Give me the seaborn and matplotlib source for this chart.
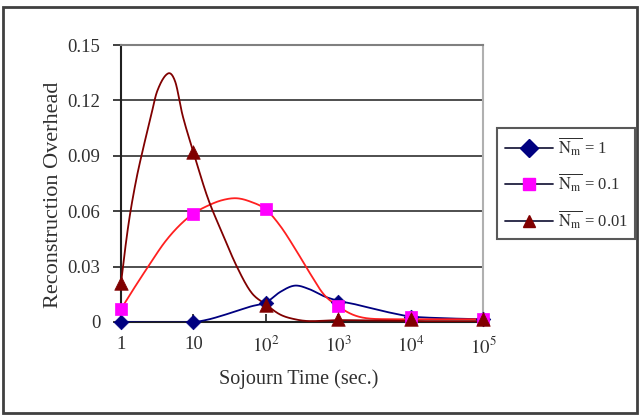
import numpy as np
import pandas as pd
import matplotlib
matplotlib.use("Agg")
import matplotlib.pyplot as plt
from matplotlib.lines import Line2D
from matplotlib.patches import Rectangle
import seaborn as sns

# sojourn time (sec.) where the markers sit
sojourn = [1, 10, 100, 1000, 10000, 100000]
tick_labels = ["1", "10", r"$10^2$", r"$10^3$", r"$10^4$", r"$10^5$"]

# marker values (reconstruction overhead)
pts_1 = [0.0, 0.0, 0.0105, 0.011, 0.0025, 0.0015]
pts_01 = [0.007, 0.0587, 0.061, 0.0085, 0.0025, 0.0015]
pts_001 = [0.021, 0.092, 0.0092, 0.0016, 0.0015, 0.0015]

# curve values, x given as log10(sojourn time)
curve_1_exp = [0, 0.5, 1.0, 1.2, 1.4, 1.6, 1.8, 2.0, 2.2, 2.4, 2.6, 2.8, 3.0, 3.2, 3.4, 3.7, 4.0, 4.5, 5.0]
curve_1_val = [0, -0.0003, 0, 0.0013, 0.0035, 0.006, 0.0085, 0.0105, 0.0163, 0.0197, 0.0178, 0.014,
               0.0115, 0.0099, 0.008, 0.0052, 0.003, 0.002, 0.0015]
curve_01_exp = [0, 0.2, 0.4, 0.6, 0.8, 1.0, 1.2, 1.4, 1.6, 1.8, 2.0, 2.2, 2.4, 2.6, 2.8, 3.0, 3.2, 3.4,
                3.7, 4.0, 5.0]
curve_01_val = [0.007, 0.0195, 0.0315, 0.043, 0.052, 0.0587, 0.063, 0.066, 0.067, 0.065, 0.061, 0.052,
                0.040, 0.027, 0.015, 0.0085, 0.004, 0.002, 0.0015, 0.0015, 0.0015]
curve_001_exp = [0, 0.1, 0.2, 0.3, 0.4, 0.5, 0.65, 0.75, 0.85, 1.0, 1.2, 1.4, 1.6, 1.8, 2.0, 2.2, 2.4,
                 2.6, 3.0, 3.5, 4.0, 5.0]
curve_001_val = [0.021, 0.052, 0.075, 0.093, 0.109, 0.125, 0.1346, 0.130, 0.112, 0.092, 0.067, 0.048,
                 0.030, 0.016, 0.0095, 0.004, 0.0015, 0.0005, 0.001, 0.0008, 0.0005, 0.0005]

series_names = [r"$\overline{\mathrm{N}_{\mathrm{m}}}$ = 1",
                r"$\overline{\mathrm{N}_{\mathrm{m}}}$ = 0.1",
                r"$\overline{\mathrm{N}_{\mathrm{m}}}$ = 0.01"]
line_colors = ["#000080", "#ff2020", "#800000"]
marker_colors = ["#000080", "#ff00ff", "#800000"]
markers = ["D", "s", "^"]
marker_sizes = [55, 80, 95]


def smooth(ex, ys, n=20):
    # cubic hermite (catmull-rom tangents) through the read points
    ex = np.asarray(ex, float)
    ys = np.asarray(ys, float)
    m = np.zeros_like(ys)
    m[1:-1] = (ys[2:] - ys[:-2]) / (ex[2:] - ex[:-2])
    # quadratic end conditions so the ends don't kink
    m[0] = 1.5 * (ys[1] - ys[0]) / (ex[1] - ex[0]) - 0.5 * m[1]
    m[-1] = 1.5 * (ys[-1] - ys[-2]) / (ex[-1] - ex[-2]) - 0.5 * m[-2]
    out_x, out_y = [], []
    t = np.linspace(0, 1, n)
    h00 = 2 * t**3 - 3 * t**2 + 1
    h10 = t**3 - 2 * t**2 + t
    h01 = -2 * t**3 + 3 * t**2
    h11 = t**3 - t**2
    for i in range(len(ys) - 1):
        h = ex[i + 1] - ex[i]
        out_y.extend(h00 * ys[i] + h10 * h * m[i] + h01 * ys[i + 1] + h11 * h * m[i + 1])
        out_x.extend(10 ** (ex[i] + t * h))
    return out_x, out_y


sns.set_theme(style="white")
plt.rcParams["font.family"] = ["Liberation Serif", "DejaVu Serif"]
plt.rcParams["mathtext.fontset"] = "stix"

fig = plt.figure(figsize=(6.43, 4.2), dpi=100)
ax = fig.add_axes([121 / 643, 98 / 420, 362 / 643, 277 / 420])

curves = [(curve_1_exp, curve_1_val), (curve_01_exp, curve_01_val), (curve_001_exp, curve_001_val)]
for (cx, cy), vals, lc, mc, mk, ms in zip(curves, [pts_1, pts_01, pts_001],
                                          line_colors, marker_colors, markers, marker_sizes):
    sx, sy = smooth(cx, cy)
    curve = pd.DataFrame({"x": sx, "y": sy})
    sns.lineplot(data=curve, x="x", y="y", ax=ax, color=lc, lw=1.3, sort=False,
                 estimator=None, zorder=3)
    pts = pd.DataFrame({"x": sojourn, "y": vals})
    sns.scatterplot(data=pts, x="x", y="y", ax=ax, color=mc, marker=mk, s=ms,
                    edgecolor=mc, linewidth=0.5, zorder=4, clip_on=False)

ax.set_xscale("log")
ax.set_xlim(1, 100000)
ax.set_ylim(0, 0.15)
ax.set_xticks(sojourn)
ax.set_xticklabels(tick_labels)
ax.minorticks_off()
ax.set_yticks([0, 0.03, 0.06, 0.09, 0.12, 0.15])
ax.set_yticklabels(["0", "0.03", "0.06", "0.09", "0.12", "0.15"])
ax.yaxis.grid(True, color="#404040", lw=1.3)
ax.set_axisbelow(True)

ax.tick_params(axis="y", direction="out", length=6, width=1.2, color="#202020",
               pad=9, labelsize=13.5, left=True)
ax.tick_params(axis="x", direction="in", length=6, width=1.2, color="#202020",
               pad=10, labelsize=13.5, bottom=True)
for t in ax.get_xticklabels() + ax.get_yticklabels():
    t.set_color("#303030")

ax.spines["left"].set_color("#202020")
ax.spines["left"].set_linewidth(1.5)
ax.spines["bottom"].set_color("#202020")
ax.spines["bottom"].set_linewidth(1.5)
ax.spines["top"].set_color("#808080")
ax.spines["top"].set_linewidth(1.5)
ax.spines["right"].set_color("#b0b0b0")
ax.spines["right"].set_linewidth(1.5)

ax.set_xlabel("Sojourn Time (sec.)", fontsize=14.5, color="#303030")
ax.set_ylabel("Reconstruction Overhead", fontsize=16, color="#303030")
ax.xaxis.set_label_coords(0.49, -0.17)
ax.yaxis.set_label_coords(-0.16, 0.46)

handles = [Line2D([0], [0], color="#202040", lw=1.3, marker=mk, markersize=9,
                  markerfacecolor=mc, markeredgecolor=mc)
           for mk, mc in zip(markers, marker_colors)]
leg = ax.legend(handles, series_names, loc="upper left", bbox_to_anchor=(1.039, 0.70),
                frameon=True, fontsize=12, fancybox=False, borderpad=0.45,
                labelspacing=0.85, handlelength=2.9, handletextpad=0.3,
                borderaxespad=0)
leg.get_frame().set_edgecolor("#303030")
leg.get_frame().set_linewidth(1.5)
for t in leg.get_texts():
    t.set_color("#303030")

fig.patches.append(Rectangle((3 / 643, 7 / 420), 634 / 643, 406 / 420,
                             transform=fig.transFigure, fill=False,
                             edgecolor="#404040", lw=2))

fig.savefig("out.png", dpi=100)
